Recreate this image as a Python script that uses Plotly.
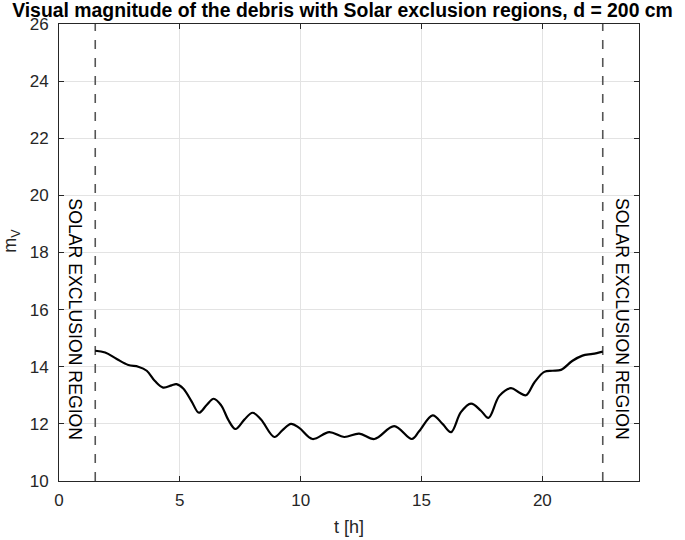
import plotly.graph_objects as go

# visual magnitude curve
t_h = [1.5, 1.91, 2.39, 2.87, 3.28, 3.63, 3.97, 4.31, 4.66, 4.86, 5.14, 5.48, 5.79, 6.1, 6.4,
       6.71, 7.0, 7.3, 7.67, 8.01, 8.36, 8.91, 9.25, 9.6, 9.94, 10.49, 11.18, 11.8, 12.42,
       13.05, 13.87, 14.6, 14.9, 15.46, 15.87, 16.22, 16.63, 17.05, 17.46, 17.77, 18.22,
       18.7, 19.04, 19.32, 19.67, 20.08, 20.42, 20.77, 21.25, 21.66, 22.08, 22.5]
m_v = [14.56, 14.5, 14.27, 14.06, 14.0, 13.86, 13.5, 13.27, 13.35, 13.39, 13.24, 12.8, 12.39,
       12.65, 12.88, 12.65, 12.15, 11.82, 12.15, 12.39, 12.15, 11.54, 11.78, 12.0, 11.86,
       11.47, 11.71, 11.54, 11.66, 11.47, 11.92, 11.47, 11.74, 12.3, 12.0, 11.71, 12.41,
       12.71, 12.46, 12.21, 12.98, 13.25, 13.1, 13.0, 13.45, 13.82, 13.86, 13.89, 14.21,
       14.39, 14.45, 14.53]

# solar exclusion limits [h]
excl_t = [1.5, 22.5]
label_t = [0.65, 23.3]
label_txt = "SOLAR EXCLUSION REGION"

y_range = [10, 26]
x_range = [0, 24]
x_ticks = [0, 5, 10, 15, 20]
y_ticks = [10, 12, 14, 16, 18, 20, 22, 24, 26]

FONT = "Liberation Sans, Arial, sans-serif"
AX = "#262626"

fig = go.Figure()

for xe in excl_t:
    fig.add_trace(go.Scatter(x=[xe, xe], y=y_range, mode="lines",
                             line=dict(color="#555555", width=1.6, dash="dash"),
                             showlegend=False, hoverinfo="skip"))

fig.add_trace(go.Scatter(x=t_h, y=m_v, mode="lines",
                         line=dict(color="black", width=2.2, shape="spline", smoothing=1.0),
                         showlegend=False))

for xl in label_t:
    fig.add_annotation(x=xl, y=15.67, text=label_txt, textangle=90, showarrow=False,
                       font=dict(family=FONT, size=17.7, color="black"))

# y axis label
fig.add_annotation(x=-0.081, y=0.526, xref="paper", yref="paper", text="m<sub>V</sub>",
                   xanchor="center", yanchor="middle",
                   showarrow=False, textangle=-90, font=dict(family=FONT, size=18, color=AX))

fig.update_layout(
    width=685, height=540,
    margin=dict(l=59, r=46, t=24, b=59),
    plot_bgcolor="white", paper_bgcolor="white",
    font=dict(family=FONT, size=17, color=AX),
    title=dict(text="<b>Visual magnitude of the debris with Solar exclusion regions, d = 200 cm</b>",
               x=0.5, xanchor="center", y=0.982, yanchor="middle", yref="container",
               font=dict(family=FONT, size=19.4, color="black")),
    xaxis=dict(range=x_range, tickvals=x_ticks, showgrid=True, gridcolor="#e3e3e3",
               zeroline=False, showline=True, linecolor=AX, linewidth=1, mirror="ticks",
               ticks="inside", ticklen=5, tickcolor=AX, automargin=False, ticklabelstandoff=4,
               title=dict(text="t [h]", standoff=10, font=dict(size=18))),
    yaxis=dict(range=y_range, tickvals=y_ticks, showgrid=True, gridcolor="#e3e3e3",
               zeroline=False, showline=True, linecolor=AX, linewidth=1, mirror="ticks",
               ticks="inside", ticklen=5, tickcolor=AX, automargin=False, ticklabelstandoff=6),
)

# page body has a default 8px margin; drop it so the figure sits at the top-left corner
fig.write_html("out.html", config={"displayModeBar": False},
               post_script="document.body.style.margin='0';")
